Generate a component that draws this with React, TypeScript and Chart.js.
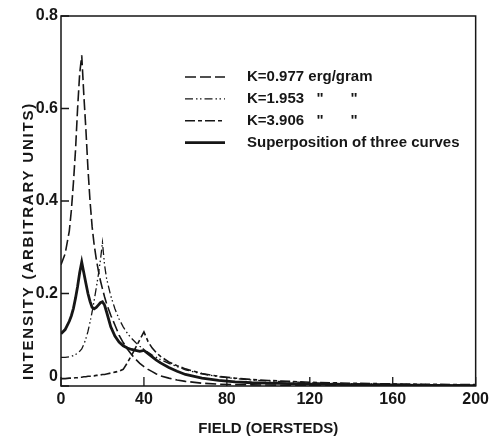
import React, { useEffect, useRef } from "react";
import { Chart, registerables } from "chart.js";

Chart.register(...registerables);

// Field in oersteds, shared by all four curves
const field = [
  0, 2, 4, 5, 6, 7, 8, 9, 10, 11, 12, 13, 14, 15, 16, 17, 18, 19, 20, 21, 22, 24,
  26, 28, 30, 32, 34, 36, 38, 40, 42, 44, 46, 48, 52, 56, 60, 68, 76, 84, 92, 100,
  110, 120, 140, 160, 180, 200,
];

// Intensity (arbitrary units) for each anisotropy constant K
const k0977 = [
  0.262, 0.286, 0.335, 0.38, 0.44, 0.51, 0.6, 0.675, 0.715, 0.63, 0.555, 0.47, 0.4,
  0.345, 0.305, 0.275, 0.25, 0.228, 0.21, 0.193, 0.178, 0.153, 0.132, 0.11, 0.094,
  0.08, 0.068, 0.058, 0.049, 0.042, 0.036, 0.031, 0.026, 0.022, 0.017, 0.013, 0.01,
  0.006, 0.004, 0.003, 0.0025, 0.002, 0.0015, 0.0012, 0.001, 0.0008, 0.0007, 0.0006,
];

const k1953 = [
  0.062, 0.062, 0.063, 0.064, 0.066, 0.068, 0.071, 0.075, 0.08, 0.09, 0.102, 0.118,
  0.138, 0.16, 0.185, 0.212, 0.24, 0.272, 0.31, 0.262, 0.232, 0.195, 0.167, 0.145,
  0.128, 0.114, 0.103, 0.094, 0.086, 0.079, 0.073, 0.067, 0.062, 0.057, 0.049, 0.042,
  0.035, 0.026, 0.02, 0.016, 0.013, 0.011, 0.009, 0.007, 0.005, 0.004, 0.003, 0.0025,
];

const k3906 = [
  0.016, 0.016, 0.017, 0.017, 0.017, 0.018, 0.018, 0.019, 0.019, 0.02, 0.02, 0.021,
  0.021, 0.022, 0.022, 0.023, 0.023, 0.024, 0.025, 0.025, 0.026, 0.028, 0.03, 0.032,
  0.036, 0.05, 0.066, 0.083, 0.1, 0.117, 0.096, 0.082, 0.072, 0.064, 0.052, 0.044,
  0.037, 0.027, 0.021, 0.017, 0.014, 0.012, 0.01, 0.008, 0.006, 0.0045, 0.0035, 0.003,
];

const superposition = [
  0.113, 0.122, 0.14, 0.152, 0.168, 0.19, 0.215, 0.245, 0.268, 0.245, 0.222, 0.2,
  0.183, 0.17, 0.167, 0.17, 0.175, 0.18, 0.182, 0.175, 0.16, 0.128, 0.108, 0.095,
  0.087, 0.082, 0.079, 0.077, 0.075, 0.077, 0.07, 0.063, 0.056, 0.05, 0.04, 0.032,
  0.025, 0.017, 0.012, 0.009, 0.007, 0.006, 0.005, 0.004, 0.003, 0.002, 0.0015, 0.001,
];

const seriesLabels = [
  "K=0.977 erg/gram",
  "K=1.953",
  "K=3.906",
  "Superposition of three curves",
];
const unitsPrefix = "K=0.977 ";
const unitWords = ["erg", "gram"];

const xTicks = [0, 40, 80, 120, 160, 200];
const yTicks = [0, 0.2, 0.4, 0.6, 0.8];
const yTitle = "INTENSITY (ARBITRARY UNITS)";

const INK = "#161616";
const FONT = "'Liberation Sans', Arial, sans-serif";

const toPoints = (ys: number[]) => field.map((x, i) => ({ x, y: ys[i] }));

// Frame, inward tick marks, the lifted y "0" label, the spaced y title and the in-plot key
const decorPlugin = {
  id: "decor",
  afterDraw(chart: any) {
    const { ctx, chartArea: a, scales } = chart;
    const xs = scales.x;
    const ys = scales.y;
    ctx.save();
    ctx.strokeStyle = INK;
    ctx.fillStyle = INK;
    ctx.setLineDash([]);

    ctx.lineWidth = 1.5;
    ctx.strokeRect(a.left, a.top, a.right - a.left, a.bottom - a.top);

    ctx.lineWidth = 1.3;
    ctx.beginPath();
    xs.ticks.forEach((t: any) => {
      const px = xs.getPixelForValue(t.value);
      ctx.moveTo(px, a.bottom);
      ctx.lineTo(px, a.bottom - 9);
    });
    ys.ticks.forEach((t: any) => {
      const py = ys.getPixelForValue(t.value);
      ctx.moveTo(a.left, py);
      ctx.lineTo(a.left + 8, py);
    });
    ctx.stroke();

    ctx.font = `bold 16px ${FONT}`;
    ctx.textAlign = "right";
    ctx.textBaseline = "middle";
    ctx.fillText("0", ys.right - 3, ys.getPixelForValue(0) - 9);

    // y axis title, read bottom to top
    ctx.save();
    ctx.translate(29, a.bottom - 6);
    ctx.rotate(-Math.PI / 2);
    ctx.font = `bold 15px ${FONT}`;
    (ctx as any).letterSpacing = "1.8px";
    ctx.textAlign = "left";
    ctx.fillText(yTitle, 0, 0);
    ctx.restore();

    // key
    const lineX0 = a.left + 124;
    const lineX1 = a.left + 164;
    const textX = a.left + 186;
    const rowY = (i: number) => a.top + 61 + i * 21.9;
    ctx.font = `bold 15px ${FONT}`;
    ctx.textAlign = "left";
    chart.data.datasets.forEach((ds: any, i: number) => {
      const y = rowY(i);
      ctx.save();
      ctx.lineWidth = ds.borderWidth;
      ctx.setLineDash(ds.borderDash || []);
      ctx.beginPath();
      ctx.moveTo(lineX0, y);
      ctx.lineTo(lineX1, y);
      ctx.stroke();
      ctx.restore();
      ctx.fillText(ds.label, textX, y);
    });
    // ditto marks under "erg" and "gram"
    const ergC =
      textX + ctx.measureText(unitsPrefix).width + ctx.measureText(unitWords[0]).width / 2;
    const gramC =
      textX +
      ctx.measureText(unitsPrefix + unitWords[0] + "/").width +
      ctx.measureText(unitWords[1]).width / 2;
    ctx.textAlign = "center";
    [1, 2].forEach((i) => {
      ctx.fillText('"', ergC, rowY(i));
      ctx.fillText('"', gramC, rowY(i));
    });
    ctx.restore();
  },
};

export default function App() {
  const ref = useRef<HTMLCanvasElement>(null);

  useEffect(() => {
    const common = { pointRadius: 0, tension: 0, borderColor: INK, fill: false };
    const chart = new Chart(ref.current as HTMLCanvasElement, {
      type: "line",
      data: {
        datasets: [
          { ...common, label: seriesLabels[0], data: toPoints(k0977), borderWidth: 1.6, borderDash: [11, 4] },
          { ...common, label: seriesLabels[1], data: toPoints(k1953), borderWidth: 1.3, borderDash: [8, 3, 1.5, 2.5, 1.5, 3] },
          { ...common, label: seriesLabels[2], data: toPoints(k3906), borderWidth: 1.6, borderDash: [10, 3, 4, 3] },
          { ...common, label: seriesLabels[3], data: toPoints(superposition), borderWidth: 2.8 },
        ],
      },
      options: {
        responsive: false,
        animation: false,
        layout: { padding: { left: 0, top: 16, right: 16, bottom: 0 } },
        plugins: { legend: { display: false }, tooltip: { enabled: false } },
        scales: {
          x: {
            type: "linear",
            min: 0,
            max: 200,
            afterBuildTicks: (s: any) => {
              s.ticks = xTicks.map((value) => ({ value }));
            },
            afterFit: (s: any) => {
              s.height = 50;
            },
            grid: { display: false, drawTicks: false },
            border: { display: false },
            ticks: {
              color: INK,
              padding: 4,
              maxRotation: 0,
              font: { family: FONT, size: 16, weight: "bold" },
            },
            title: {
              display: true,
              text: "FIELD (OERSTEDS)",
              color: INK,
              font: { family: FONT, size: 15, weight: "bold", lineHeight: 1 },
              padding: { top: 0, bottom: 0 },
            },
          },
          y: {
            type: "linear",
            min: 0,
            max: 0.8,
            afterBuildTicks: (s: any) => {
              s.ticks = yTicks.map((value) => ({ value }));
            },
            afterFit: (s: any) => {
              s.width = 61;
            },
            grid: { display: false, drawTicks: false },
            border: { display: false },
            ticks: {
              color: INK,
              padding: 3,
              font: { family: FONT, size: 16, weight: "bold" },
              callback: (v: any) => (v === 0 ? "" : String(v)),
            },
          },
        },
      },
      plugins: [decorPlugin],
    } as any);
    return () => chart.destroy();
  }, []);

  return (
    <div style={{ position: "absolute", left: 0, top: 0, width: 493, height: 436, background: "#fff" }}>
      <canvas ref={ref} width={493} height={436} />
    </div>
  );
}
